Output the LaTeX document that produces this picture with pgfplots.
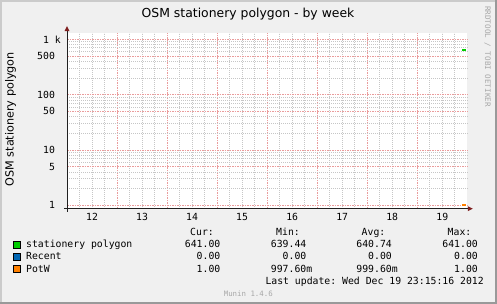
\documentclass[border=0pt]{standalone}
\usepackage{fontspec}
\setmainfont{DejaVu Sans}
\setmonofont{DejaVu Sans Mono}
\usepackage{pgfplots}
\pgfplotsset{compat=1.18}
\definecolor{bgc}{HTML}{F0F0F0}
\definecolor{shA}{HTML}{CBCBCB}
\definecolor{shB}{HTML}{999999}
\definecolor{mgrid}{HTML}{EA9C9C}
\definecolor{mingrid}{HTML}{C6C6C6}
\definecolor{arrowc}{HTML}{7F1F1F}
\definecolor{axisc}{HTML}{202020}
\definecolor{cgreen}{HTML}{00CC00}
\definecolor{cblue}{HTML}{0066B3}
\definecolor{corange}{HTML}{FF8000}
\definecolor{wm}{HTML}{A8A8A8}
\newcommand\mono{\ttfamily\fontsize{9.8bp}{11bp}\selectfont}
\begin{document}
\begin{tikzpicture}
\useasboundingbox (0,0) rectangle (497bp,304bp);
\fill[bgc] (0,0) rectangle (497bp,304bp);
\fill[shA] (0,0) rectangle (2bp,304bp);
\fill[shA] (0,302bp) rectangle (497bp,304bp);
\fill[shB] (495bp,0) rectangle (497bp,304bp);
\fill[shB] (0,0) rectangle (497bp,2bp);
\begin{axis}[
  at={(67bp,95.3bp)}, anchor=south west,
  scale only axis, width=400.3bp, height=176bp,
  xmin=12, xmax=20, ymode=log, ymin=0.868, ymax=1316,
  axis background/.style={fill=white},
  axis line style={draw=none},
  clip=false,
  major tick length=0pt, minor tick length=0pt,
  xtick={13,14,15,16,17,18,19},
  xticklabels={},
  extra x ticks={12.5,13.5,14.5,15.5,16.5,17.5,18.5,19.5},
  extra x tick labels={12,13,14,15,16,17,18,19},
  extra x tick style={grid=none},
  minor xtick={12.25,12.5,12.75,13.25,13.5,13.75,14.25,14.5,14.75,15.25,15.5,15.75,16.25,16.5,16.75,17.25,17.5,17.75,18.25,18.5,18.75,19.25,19.5,19.75},
  ytick={1,5,10,50,100,500,1000},
  yticklabels={1\hphantom{0},5\hphantom{0},10\hphantom{0},50\hphantom{0},100\hphantom{0},500\hphantom{0},1 k},
  minor ytick={2,3,4,6,7,8,9,20,30,40,60,70,80,90,200,300,400,600,700,800,900},
  xmajorgrids=true, ymajorgrids=true, xminorgrids=true, yminorgrids=true,
  major grid style={draw=mgrid, line width=0.9bp, dash pattern=on 1.5bp off 1bp},
  minor grid style={draw=mingrid, line width=0.8bp, dash pattern=on 1bp off 1bp},
  xticklabel style={font=\mono, anchor=base, inner sep=0pt, yshift=-12bp},
  yticklabel style={font=\mono, anchor=east, inner sep=0pt, xshift=-6bp},
]
\addplot[cgreen, line width=2bp] coordinates {(19.895,641) (19.965,641)};
\addplot[corange, line width=2bp] coordinates {(19.895,1) (19.965,1)};
\draw[axisc, line width=1bp] ([xshift=-3bp]rel axis cs:0,0) -- ([xshift=1bp]rel axis cs:1,0);
\draw[axisc, line width=1bp] ([yshift=-3bp]rel axis cs:0,0) -- ([yshift=2bp]rel axis cs:0,1);
\fill[arrowc] ([xshift=0.5bp,yshift=2.5bp]rel axis cs:1,0) -- ([xshift=5.5bp]rel axis cs:1,0) -- ([xshift=0.5bp,yshift=-2.5bp]rel axis cs:1,0) -- cycle;
\fill[arrowc] ([xshift=-2.5bp,yshift=1.5bp]rel axis cs:0,1) -- ([yshift=6.7bp]rel axis cs:0,1) -- ([xshift=2.5bp,yshift=1.5bp]rel axis cs:0,1) -- cycle;
\end{axis}
\node[anchor=base, inner sep=0pt, font=\fontsize{12.4bp}{14bp}\selectfont] at (248bp,286bp) {OSM stationery polygon - by week};
\node[rotate=90, inner sep=0pt, font=\fontsize{11.2bp}{13bp}\selectfont] at (10.5bp,184.8bp) {OSM stationery polygon};
\node[rotate=-90, inner sep=0pt, font=\ttfamily\fontsize{7.6bp}{8bp}\selectfont, text=wm] at (487.5bp,247.5bp) {RRDTOOL / TOBI OETIKER};
\node[anchor=base, inner sep=0pt, font=\ttfamily\fontsize{7.4bp}{8bp}\selectfont, text=wm] at (248.3bp,8bp) {Munin 1.4.6};
% legend headers
\node[anchor=base east, inner sep=0pt, font=\mono] at (214bp,68bp) {Cur:};
\node[anchor=base east, inner sep=0pt, font=\mono] at (300bp,68bp) {Min:};
\node[anchor=base east, inner sep=0pt, font=\mono] at (385.5bp,68bp) {Avg:};
\node[anchor=base east, inner sep=0pt, font=\mono] at (471.5bp,68bp) {Max:};
% row 1
\filldraw[fill=cgreen, draw=black, line width=0.8bp] (13.5bp,55.5bp) rectangle (20.5bp,62.5bp);
\node[anchor=base west, inner sep=0pt, font=\mono] at (26bp,56.3bp) {stationery polygon};
\node[anchor=base east, inner sep=0pt, font=\mono] at (220.5bp,56.3bp) {641.00};
\node[anchor=base east, inner sep=0pt, font=\mono] at (306.5bp,56.3bp) {639.44};
\node[anchor=base east, inner sep=0pt, font=\mono] at (392bp,56.3bp) {640.74};
\node[anchor=base east, inner sep=0pt, font=\mono] at (478bp,56.3bp) {641.00};
% row 2
\filldraw[fill=cblue, draw=black, line width=0.8bp] (13.5bp,43.5bp) rectangle (20.5bp,50.5bp);
\node[anchor=base west, inner sep=0pt, font=\mono] at (26bp,44bp) {Recent};
\node[anchor=base east, inner sep=0pt, font=\mono] at (220.5bp,44bp) {0.00};
\node[anchor=base east, inner sep=0pt, font=\mono] at (306.5bp,44bp) {0.00};
\node[anchor=base east, inner sep=0pt, font=\mono] at (392bp,44bp) {0.00};
\node[anchor=base east, inner sep=0pt, font=\mono] at (478bp,44bp) {0.00};
% row 3
\filldraw[fill=corange, draw=black, line width=0.8bp] (13.5bp,31.5bp) rectangle (20.5bp,38.5bp);
\node[anchor=base west, inner sep=0pt, font=\mono] at (26bp,32bp) {PotW};
\node[anchor=base east, inner sep=0pt, font=\mono] at (220.5bp,32bp) {1.00};
\node[anchor=base east, inner sep=0pt, font=\mono] at (306.5bp,32bp) {997.60\rlap{m}};
\node[anchor=base east, inner sep=0pt, font=\mono] at (392bp,32bp) {999.60\rlap{m}};
\node[anchor=base east, inner sep=0pt, font=\mono] at (478bp,32bp) {1.00};
\node[anchor=base east, inner sep=0pt, font=\mono] at (484bp,20bp) {Last update: Wed Dec 19 23:15:16 2012};
\end{tikzpicture}
\end{document}
